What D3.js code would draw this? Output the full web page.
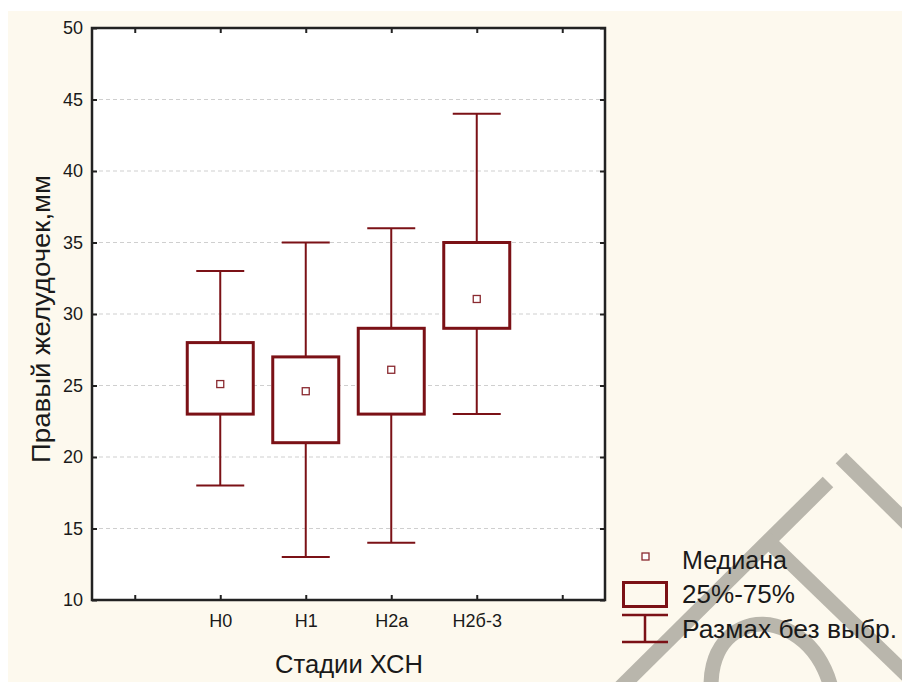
<!DOCTYPE html>
<html>
<head>
    <meta charset="utf-8">
    <title>Правый желудочек</title>
    <script src="https://d3js.org/d3.v7.min.js"></script>
    <style>
        body { margin: 0; background: #ffffff; }
        text { font-family: "Liberation Sans", Arial, sans-serif; fill: #1a1a1a; }
    </style>
</head>
<body>
    <div id="chart"></div>
    <script>
        // data
        const categories = ["Н0", "Н1", "Н2а", "Н2б-3"];
        const q1 = [23, 21, 23, 29];
        const q3 = [28, 27, 29, 35];
        const medians = [25.1, 24.6, 26.1, 31.05];
        const mins = [18, 13, 14, 23];
        const maxs = [33, 35, 36, 44];
        const yTicks = [10, 15, 20, 25, 30, 35, 40, 45, 50];
        const legendLabels = ["Медиана", "25%-75%", "Размах без выбр."];

        const W = 902, H = 682;
        const dark = "#7b1116";
        const plot = {left: 92, top: 28, right: 605, bottom: 600};

        const svg = d3.select("#chart").append("svg")
            .attr("width", W).attr("height", H);

        // cream page
        svg.append("rect").attr("x", 8).attr("y", 11)
            .attr("width", W - 8).attr("height", H - 11).attr("fill", "#fdf9ee");

        // watermark strokes
        const wm = svg.append("g").attr("fill", "none").attr("stroke", "#b9b6ac")
            .attr("stroke-width", 15);
        wm.append("path").attr("d", "M618,690 L828,482");
        wm.append("path").attr("d", "M764,537 L912,680");
        wm.append("path").attr("d", "M841,458 L912,528");
        wm.append("ellipse").attr("cx", 772).attr("cy", 694)
            .attr("rx", 58).attr("ry", 72)
            .attr("transform", "rotate(-25,772,694)");

        svg.append("rect").attr("x", plot.left).attr("y", plot.top)
            .attr("width", plot.right - plot.left).attr("height", plot.bottom - plot.top)
            .attr("fill", "#ffffff");

        // slots 1..6, boxes sit in 2..5
        const x = d3.scaleLinear().domain([0.5, 6.5]).range([plot.left, plot.right]);
        const y = d3.scaleLinear().domain([10, 50]).range([plot.bottom, plot.top]);

        // grid
        svg.append("g").selectAll("line")
            .data(yTicks.filter(d => d > 10 && d < 50))
            .enter().append("line")
            .attr("x1", plot.left).attr("x2", plot.right)
            .attr("y1", d => y(d)).attr("y2", d => y(d))
            .attr("stroke", "#cfcfcf").attr("stroke-width", 1)
            .attr("stroke-dasharray", "4,3");

        // axes (ticks pointing inward on all four sides)
        const tickPos = [1, 2, 3, 4, 5, 6];
        const labelFor = d => (d >= 2 && d <= 5) ? categories[d - 2] : "";

        const gLeft = svg.append("g").attr("transform", `translate(${plot.left},0)`)
            .call(d3.axisLeft(y).tickValues(yTicks).tickSize(-5).tickPadding(9));
        const gRight = svg.append("g").attr("transform", `translate(${plot.right},0)`)
            .call(d3.axisRight(y).tickValues(yTicks).tickSize(-5).tickFormat(""));
        const gBottom = svg.append("g").attr("transform", `translate(0,${plot.bottom})`)
            .call(d3.axisBottom(x).tickValues(tickPos).tickSize(-5).tickFormat(labelFor).tickPadding(14));
        const gTop = svg.append("g").attr("transform", `translate(0,${plot.top})`)
            .call(d3.axisTop(x).tickValues(tickPos).tickSize(-5).tickFormat(""));

        [gLeft, gRight, gBottom, gTop].forEach(g => {
            g.select(".domain").remove();
            g.selectAll(".tick line").attr("stroke", "#222").attr("stroke-width", 2);
        });
        [gLeft, gBottom].forEach(g => {
            g.selectAll(".tick text").attr("font-size", 18).attr("fill", "#1a1a1a")
                .attr("font-family", "Liberation Sans, Arial, sans-serif");
        });

        svg.append("rect").attr("x", plot.left).attr("y", plot.top)
            .attr("width", plot.right - plot.left).attr("height", plot.bottom - plot.top)
            .attr("fill", "none").attr("stroke", "#222").attr("stroke-width", 2.5);

        // boxes
        const boxW = 66, capW = 48;
        const boxes = svg.append("g").selectAll("g")
            .data(categories.map((c, i) => ({pos: i + 2, q1: q1[i], q3: q3[i], med: medians[i], lo: mins[i], hi: maxs[i]})))
            .enter().append("g");

        boxes.append("line")
            .attr("x1", d => x(d.pos)).attr("x2", d => x(d.pos))
            .attr("y1", d => y(d.hi)).attr("y2", d => y(d.q3))
            .attr("stroke", dark).attr("stroke-width", 2);
        boxes.append("line")
            .attr("x1", d => x(d.pos)).attr("x2", d => x(d.pos))
            .attr("y1", d => y(d.q1)).attr("y2", d => y(d.lo))
            .attr("stroke", dark).attr("stroke-width", 2);
        boxes.append("line")
            .attr("x1", d => x(d.pos) - capW / 2).attr("x2", d => x(d.pos) + capW / 2)
            .attr("y1", d => y(d.hi)).attr("y2", d => y(d.hi))
            .attr("stroke", dark).attr("stroke-width", 2);
        boxes.append("line")
            .attr("x1", d => x(d.pos) - capW / 2).attr("x2", d => x(d.pos) + capW / 2)
            .attr("y1", d => y(d.lo)).attr("y2", d => y(d.lo))
            .attr("stroke", dark).attr("stroke-width", 2);
        boxes.append("rect")
            .attr("x", d => x(d.pos) - boxW / 2).attr("width", boxW)
            .attr("y", d => y(d.q3)).attr("height", d => y(d.q1) - y(d.q3))
            .attr("fill", "#ffffff").attr("stroke", dark).attr("stroke-width", 3);
        boxes.append("rect")
            .attr("x", d => x(d.pos) - 3.5).attr("y", d => y(d.med) - 3.5)
            .attr("width", 7).attr("height", 7)
            .attr("fill", "#ffffff").attr("stroke", "#8a2a30").attr("stroke-width", 1.3);

        // axis titles
        svg.append("text")
            .attr("transform", "translate(50,319) rotate(-90)")
            .attr("text-anchor", "middle").attr("font-size", 25)
            .attr("textLength", 288).attr("lengthAdjust", "spacingAndGlyphs")
            .text("Правый желудочек,мм");
        svg.append("text")
            .attr("x", 349).attr("y", 673)
            .attr("text-anchor", "middle").attr("font-size", 25)
            .attr("textLength", 148).attr("lengthAdjust", "spacingAndGlyphs")
            .text("Стадии ХСН");

        // legend
        const lg = svg.append("g");
        lg.append("rect").attr("x", 642).attr("y", 553).attr("width", 7).attr("height", 7)
            .attr("fill", "#ffffff").attr("stroke", "#8a2a30").attr("stroke-width", 1.3);
        lg.append("rect").attr("x", 623.5).attr("y", 582.5).attr("width", 43).attr("height", 24)
            .attr("fill", "none").attr("stroke", dark).attr("stroke-width", 3);
        lg.append("path").attr("d", "M622,615 H668 M645,615 V642 M622,642 H668")
            .attr("fill", "none").attr("stroke", dark).attr("stroke-width", 2.5);

        const lgY = [569, 603, 638];
        const lgLen = [105, 113, 215];
        lg.selectAll("text.lg").data(legendLabels).enter().append("text")
            .attr("class", "lg")
            .attr("x", 682).attr("y", (d, i) => lgY[i])
            .attr("font-size", 25)
            .attr("textLength", (d, i) => lgLen[i]).attr("lengthAdjust", "spacingAndGlyphs")
            .text(d => d);
    </script>
</body>
</html>
